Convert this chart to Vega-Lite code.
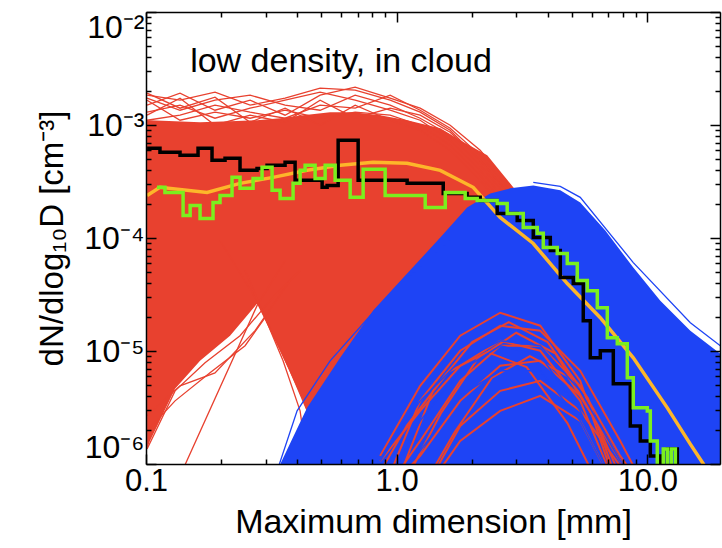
{
"$schema": "https://vega.github.io/schema/vega-lite/v6.json",
"width": 574, "height": 452,
"autosize": {"type": "none"},
"padding": {"left": 146, "top": 12, "right": 2, "bottom": 84},
"background": "white",
"config": {"view": {"stroke": null}, "font": "Liberation Sans"},
"datasets": {
"redArea": [
{"D":0.101,"N":1.102e-3,"N2":1.36e-6},{"D":0.1037,"N":1.102e-3,"N2":1.6e-6},{"D":0.1306,"N":1.08e-3,"N2":4.63e-6},{"D":0.1643,"N":1.058e-3,"N2":8.19e-6},{"D":0.2164,"N":1.08e-3,"N2":1.365e-5},{"D":0.2773,"N":1.102e-3,"N2":2.62e-5},{"D":0.3428,"N":1.148e-3,"N2":1.005e-5},{"D":0.4233,"N":1.221e-3,"N2":3.62e-6},{"D":0.5427,"N":1.298e-3,"N2":8e-7},{"D":0.6705,"N":1.298e-3,"N2":8e-7},{"D":0.859,"N":1.221e-3,"N2":8e-7},{"D":1.101,"N":1.102e-3,"N2":8e-7},{"D":1.493,"N":9.36e-4,"N2":8e-7},{"D":1.793,"N":7.32e-4,"N2":8e-7},{"D":2.298,"N":5.39e-4,"N2":8e-7},{"D":2.918,"N":2.81e-4,"N2":8e-7},{"D":3.74,"N":1.43e-4,"N2":8e-7},{"D":6.494,"N":3.42e-5,"N2":8e-7},{"D":13.54,"N":3.62e-6,"N2":8e-7},{"D":19.56,"N":1.44e-6,"N2":8e-7}
],
"redLines": [
{"id":"L1","D":0.101,"N":1.836e-3},{"id":"L1","D":0.1367,"N":1.658e-3},{"id":"L1","D":0.1885,"N":1.952e-3},{"id":"L1","D":0.2602,"N":1.497e-3},{"id":"L1","D":0.3588,"N":1.727e-3},{"id":"L1","D":0.4951,"N":2.118e-3},{"id":"L1","D":0.683,"N":2.033e-3},{"id":"L1","D":0.942,"N":1.658e-3},{"id":"L1","D":1.241,"N":1.298e-3},{"id":"L1","D":1.635,"N":8.98e-4},{"id":"L1","D":2.154,"N":4.87e-4},{"id":"L1","D":2.839,"N":2.38e-4},
{"id":"L2","D":0.101,"N":1.497e-3},{"id":"L2","D":0.1367,"N":1.912e-3},{"id":"L2","D":0.1885,"N":1.351e-3},{"id":"L2","D":0.2602,"N":1.658e-3},{"id":"L2","D":0.3588,"N":1.221e-3},{"id":"L2","D":0.4951,"N":1.836e-3},{"id":"L2","D":0.683,"N":2.16e-3},{"id":"L2","D":0.942,"N":1.727e-3},{"id":"L2","D":1.241,"N":1.408e-3},{"id":"L2","D":1.635,"N":9.95e-4},{"id":"L2","D":2.154,"N":5.97e-4},{"id":"L2","D":2.839,"N":2.92e-4},
{"id":"L3","D":0.101,"N":1.727e-3},{"id":"L3","D":0.1367,"N":1.351e-3},{"id":"L3","D":0.1885,"N":1.658e-3},{"id":"L3","D":0.2602,"N":1.836e-3},{"id":"L3","D":0.3588,"N":1.497e-3},{"id":"L3","D":0.4951,"N":1.351e-3},{"id":"L3","D":0.683,"N":1.836e-3},{"id":"L3","D":0.942,"N":1.497e-3},{"id":"L3","D":1.241,"N":1.148e-3},{"id":"L3","D":1.635,"N":8.11e-4},{"id":"L3","D":2.154,"N":4.40e-4},{"id":"L3","D":2.839,"N":2.15e-4},
{"id":"L4","D":0.101,"N":1.298e-3},{"id":"L4","D":0.1367,"N":1.497e-3},{"id":"L4","D":0.1885,"N":1.148e-3},{"id":"L4","D":0.2602,"N":1.408e-3},{"id":"L4","D":0.3588,"N":1.658e-3},{"id":"L4","D":0.4951,"N":1.952e-3},{"id":"L4","D":0.683,"N":1.658e-3},{"id":"L4","D":0.942,"N":1.351e-3},{"id":"L4","D":1.241,"N":1.102e-3},{"id":"L4","D":1.635,"N":7.32e-4},{"id":"L4","D":2.154,"N":3.97e-4},{"id":"L4","D":2.839,"N":1.94e-4},
{"id":"L5","D":0.101,"N":1.102e-3},{"id":"L5","D":0.1367,"N":1.221e-3},{"id":"L5","D":0.1885,"N":1.497e-3},{"id":"L5","D":0.2602,"N":1.298e-3},{"id":"L5","D":0.3588,"N":1.148e-3},{"id":"L5","D":0.4951,"N":1.497e-3},{"id":"L5","D":0.683,"N":1.408e-3},{"id":"L5","D":0.942,"N":1.836e-3},{"id":"L5","D":1.241,"N":1.351e-3},{"id":"L5","D":1.635,"N":9.36e-4},{"id":"L5","D":2.154,"N":5.39e-4},{"id":"L5","D":2.839,"N":2.64e-4},
{"id":"L6","D":0.101,"N":1.658e-3},{"id":"L6","D":0.1367,"N":1.102e-3},{"id":"L6","D":0.1885,"N":1.298e-3},{"id":"L6","D":0.2602,"N":1.148e-3},{"id":"L6","D":0.3588,"N":1.351e-3},{"id":"L6","D":0.4951,"N":1.148e-3},{"id":"L6","D":0.683,"N":1.298e-3},{"id":"L6","D":0.942,"N":1.221e-3},{"id":"L6","D":1.241,"N":9.95e-4},{"id":"L6","D":1.635,"N":6.61e-4},{"id":"L6","D":2.154,"N":3.58e-4},{"id":"L6","D":2.839,"N":1.75e-4},
{"id":"L7","D":0.101,"N":1.221e-3},{"id":"L7","D":0.1367,"N":1.727e-3},{"id":"L7","D":0.1885,"N":9.95e-4},{"id":"L7","D":0.2602,"N":1.221e-3},{"id":"L7","D":0.3588,"N":1.058e-3},{"id":"L7","D":0.4951,"N":1.658e-3},{"id":"L7","D":0.683,"N":1.148e-3},{"id":"L7","D":0.942,"N":1.408e-3},{"id":"L7","D":1.241,"N":1.221e-3},{"id":"L7","D":1.635,"N":8.62e-4},{"id":"L7","D":2.154,"N":4.87e-4},{"id":"L7","D":2.839,"N":2.38e-4},
{"id":"L8","D":0.101,"N":1.912e-3},{"id":"L8","D":0.1367,"N":1.408e-3},{"id":"L8","D":0.1885,"N":1.762e-3},{"id":"L8","D":0.2602,"N":1.058e-3},{"id":"L8","D":0.3588,"N":1.408e-3},{"id":"L8","D":0.4951,"N":9.95e-4},{"id":"L8","D":0.683,"N":1.497e-3},{"id":"L8","D":0.942,"N":1.102e-3},{"id":"L8","D":1.241,"N":8.98e-4},{"id":"L8","D":1.635,"N":5.97e-4},{"id":"L8","D":2.154,"N":3.24e-4},{"id":"L8","D":2.839,"N":1.58e-4},
{"id":"R1","D":0.101,"N":1.36e-6},{"id":"R1","D":0.1306,"N":4.44e-6},{"id":"R1","D":0.172,"N":7.86e-6},{"id":"R1","D":0.2372,"N":1.365e-5},{"id":"R1","D":0.3126,"N":2.79e-5},{"id":"R1","D":0.4119,"N":5.15e-5},
{"id":"R2","D":0.101,"N":1.96e-6},{"id":"R2","D":0.1306,"N":3.62e-6},{"id":"R2","D":0.180,"N":6.41e-6},{"id":"R2","D":0.2485,"N":1.113e-5},{"id":"R2","D":0.3126,"N":2.28e-5},
{"id":"R3","D":0.1247,"N":5e-7},{"id":"R3","D":0.2773,"N":2.52e-5},{"id":"R3","D":0.3588,"N":6.32e-5},
{"id":"R4","D":0.101,"N":2.67e-6},{"id":"R4","D":0.1367,"N":4.92e-6},{"id":"R4","D":0.1885,"N":6.41e-6},{"id":"R4","D":0.2723,"N":1.512e-5},{"id":"R4","D":0.3757,"N":4.2e-5},
{"id":"D1","D":0.1974,"N":9.5e-5},{"id":"D1","D":0.2773,"N":2.79e-5},{"id":"D1","D":0.3757,"N":6.68e-6},{"id":"D1","D":0.4951,"N":1.6e-6},{"id":"D1","D":0.5525,"N":5e-7},
{"id":"D2","D":0.2485,"N":5.15e-5},{"id":"D2","D":0.2904,"N":2.28e-5},{"id":"D2","D":0.3523,"N":8.19e-6},{"id":"D2","D":0.4119,"N":2.95e-6},{"id":"D2","D":0.46,"N":5e-7}
],
"blueArea": [
{"D":0.3273,"N":8e-7,"N2":8e-7},{"D":0.4392,"N":3.14e-6,"N2":8e-7},{"D":0.5951,"N":8.71e-6,"N2":8e-7},{"D":0.8057,"N":2.28e-5,"N2":8e-7},{"D":1.101,"N":4.84e-5,"N2":8e-7},{"D":1.493,"N":1.01e-4,"N2":8e-7},{"D":1.911,"N":1.865e-4,"N2":8e-7},{"D":2.362,"N":2.48e-4,"N2":8e-7},{"D":2.839,"N":2.75e-4,"N2":8e-7},{"D":3.508,"N":2.92e-4,"N2":8e-7},{"D":4.496,"N":2.64e-4,"N2":8e-7},{"D":5.401,"N":2.065e-4,"N2":8e-7},{"D":6.80,"N":1.165e-4,"N2":8e-7},{"D":8.792,"N":5.47e-5,"N2":8e-7},{"D":11.27,"N":2.79e-5,"N2":8e-7},{"D":14.85,"N":1.512e-5,"N2":8e-7},{"D":19.56,"N":9.45e-6,"N2":8e-7}
],
"blueLines": [
{"id":"BL1","D":0.3069,"N":5e-7},{"id":"BL1","D":0.4007,"N":2.95e-6},{"id":"BL1","D":0.5427,"N":8.19e-6},{"id":"BL1","D":0.7839,"N":2.05e-5},{"id":"BL1","D":1.132,"N":4.65e-5},{"id":"BL1","D":1.635,"N":9.5e-5},
{"id":"BR1","D":3.508,"N":3.107e-4},{"id":"BR1","D":4.496,"N":2.86e-4},{"id":"BR1","D":5.401,"N":2.29e-4},{"id":"BR1","D":8.792,"N":6.06e-5},{"id":"BR1","D":14.85,"N":1.78e-5},{"id":"BR1","D":19.56,"N":1.113e-5}
],
"redArcs": [
{"id":"A1","D":0.859,"N":5e-7},{"id":"A1","D":1.241,"N":3.62e-6},{"id":"A1","D":1.793,"N":1.005e-5},{"id":"A1","D":2.589,"N":1.675e-5},{"id":"A1","D":3.74,"N":1.512e-5},{"id":"A1","D":5.401,"N":6.68e-6},{"id":"A1","D":7.80,"N":1.6e-6},{"id":"A1","D":10.28,"N":5e-7},
{"id":"A2","D":0.859,"N":5e-7},{"id":"A2","D":1.241,"N":1.6e-6},{"id":"A2","D":1.793,"N":5.44e-6},{"id":"A2","D":2.589,"N":1.113e-5},{"id":"A2","D":3.74,"N":1.113e-5},{"id":"A2","D":5.401,"N":4.92e-6},{"id":"A2","D":7.80,"N":1.18e-6},{"id":"A2","D":10.28,"N":5e-7},
{"id":"A3","D":0.859,"N":1.18e-6},{"id":"A3","D":1.241,"N":4.92e-6},{"id":"A3","D":1.793,"N":1.365e-5},{"id":"A3","D":2.589,"N":2.18e-5},{"id":"A3","D":3.74,"N":1.675e-5},{"id":"A3","D":5.401,"N":5.44e-6},{"id":"A3","D":7.80,"N":5e-7},
{"id":"A4","D":0.859,"N":5e-7},{"id":"A4","D":1.241,"N":1.18e-6},{"id":"A4","D":1.793,"N":3.62e-6},{"id":"A4","D":2.589,"N":7.4e-6},{"id":"A4","D":3.74,"N":8.19e-6},{"id":"A4","D":5.401,"N":4.01e-6},{"id":"A4","D":7.80,"N":1.063e-6},{"id":"A4","D":10.28,"N":5e-7},
{"id":"A5","D":0.859,"N":5e-7},{"id":"A5","D":1.241,"N":5e-7},{"id":"A5","D":1.793,"N":2.17e-6},{"id":"A5","D":2.589,"N":4.44e-6},{"id":"A5","D":3.74,"N":5.44e-6},{"id":"A5","D":5.401,"N":2.95e-6},{"id":"A5","D":7.80,"N":9.6e-7},{"id":"A5","D":10.28,"N":5e-7},
{"id":"A6","D":0.859,"N":1.063e-6},{"id":"A6","D":1.241,"N":2.95e-6},{"id":"A6","D":1.793,"N":7.4e-6},{"id":"A6","D":2.589,"N":1.233e-5},{"id":"A6","D":3.74,"N":1.005e-5},{"id":"A6","D":5.401,"N":3.62e-6},{"id":"A6","D":7.80,"N":5e-7},
{"id":"A7","D":0.859,"N":5e-7},{"id":"A7","D":1.241,"N":5e-7},{"id":"A7","D":1.793,"N":1.6e-6},{"id":"A7","D":2.589,"N":2.95e-6},{"id":"A7","D":3.74,"N":4.01e-6},{"id":"A7","D":5.401,"N":2.41e-6},{"id":"A7","D":7.80,"N":5e-7},{"id":"A7","D":10.28,"N":5e-7},
{"id":"A8","D":1.0,"N":5e-7},{"id":"A8","D":1.5,"N":2.8e-6},{"id":"A8","D":2.1,"N":8.5e-6},{"id":"A8","D":3.0,"N":1.45e-5},{"id":"A8","D":4.3,"N":9.5e-6},{"id":"A8","D":6.2,"N":2.5e-6},{"id":"A8","D":8.5,"N":5e-7},
{"id":"A9","D":0.75,"N":5e-7},{"id":"A9","D":1.1,"N":2.2e-6},{"id":"A9","D":1.6,"N":6.5e-6},{"id":"A9","D":2.3,"N":9.8e-6},{"id":"A9","D":3.3,"N":7.2e-6},{"id":"A9","D":4.8,"N":2.3e-6},{"id":"A9","D":6.8,"N":5e-7},
{"id":"A10","D":1.2,"N":5e-7},{"id":"A10","D":1.7,"N":1.9e-6},{"id":"A10","D":2.4,"N":5.8e-6},{"id":"A10","D":3.4,"N":9.0e-6},{"id":"A10","D":4.8,"N":6.0e-6},{"id":"A10","D":6.9,"N":1.7e-6},{"id":"A10","D":9.5,"N":5e-7},
{"id":"A11","D":0.95,"N":5e-7},{"id":"A11","D":1.4,"N":4.5e-6},{"id":"A11","D":2.0,"N":1.2e-5},{"id":"A11","D":2.8,"N":1.8e-5},{"id":"A11","D":4.0,"N":1.2e-5},{"id":"A11","D":5.8,"N":3.8e-6},{"id":"A11","D":8.0,"N":5e-7}
],
"blueArcs": [
{"id":"BA1","D":0.859,"N":5e-7},{"id":"BA1","D":1.241,"N":2.41e-6},{"id":"BA1","D":1.793,"N":6.68e-6},{"id":"BA1","D":2.589,"N":1.113e-5},{"id":"BA1","D":3.74,"N":9.08e-6},{"id":"BA1","D":5.401,"N":2.95e-6},{"id":"BA1","D":7.80,"N":5e-7},{"id":"BA1","D":10.28,"N":5e-7},
{"id":"BA2","D":0.859,"N":5e-7},{"id":"BA2","D":1.241,"N":1.3e-6},{"id":"BA2","D":1.793,"N":4.01e-6},{"id":"BA2","D":2.589,"N":6.68e-6},{"id":"BA2","D":3.74,"N":6.68e-6},{"id":"BA2","D":5.401,"N":2.41e-6},{"id":"BA2","D":7.80,"N":5e-7},{"id":"BA2","D":10.28,"N":5e-7},
{"id":"BA3","D":0.859,"N":1.063e-6},{"id":"BA3","D":1.241,"N":3.62e-6},{"id":"BA3","D":1.793,"N":8.19e-6},{"id":"BA3","D":2.589,"N":1.233e-5},{"id":"BA3","D":3.74,"N":1.113e-5},{"id":"BA3","D":5.401,"N":4.44e-6},{"id":"BA3","D":7.80,"N":1.063e-6},{"id":"BA3","D":10.28,"N":5e-7}
],
"orange": [
{"D":0.101,"N":2.38e-4},{"D":0.1137,"N":2.81e-4},{"D":0.1752,"N":2.53e-4},{"D":0.2372,"N":3.045e-4},{"D":0.3214,"N":3.44e-4},{"D":0.4392,"N":3.97e-4},{"D":0.5951,"N":4.40e-4},{"D":0.8057,"N":4.67e-4},{"D":1.101,"N":4.58e-4},{"D":1.493,"N":3.97e-4},{"D":2.020,"N":2.81e-4},{"D":2.589,"N":1.52e-4},{"D":3.508,"N":8.94e-5},{"D":4.794,"N":3.95e-5},{"D":6.494,"N":1.97e-5},{"D":8.792,"N":8.71e-6},{"D":12.02,"N":3.14e-6},{"D":14.85,"N":1.50e-6},{"D":16.74,"N":1.0e-6},{"D":17.84,"N":7.7e-7}
],
"black": [
{"D":0.101,"N":6.22e-4},{"D":0.1137,"N":5.73e-4},{"D":0.1367,"N":5.39e-4},{"D":0.1613,"N":6.22e-4},{"D":0.1834,"N":4.87e-4},{"D":0.2067,"N":5.07e-4},{"D":0.2372,"N":3.97e-4},{"D":0.2773,"N":4.13e-4},{"D":0.3041,"N":4.40e-4},{"D":0.3588,"N":4.67e-4},{"D":0.3934,"N":3.24e-4},{"D":0.5043,"N":2.81e-4},{"D":0.528,"N":2.92e-4},{"D":0.5843,"N":7.32e-4},{"D":0.7021,"N":3.24e-4},{"D":1.101,"N":3.045e-4},{"D":1.534,"N":2.48e-4},{"D":1.911,"N":2.29e-4},{"D":2.154,"N":2.15e-4},{"D":2.518,"N":1.65e-4},{"D":3.027,"N":1.43e-4},{"D":3.508,"N":1.01e-4},{"D":4.102,"N":7.75e-5},{"D":4.496,"N":4.47e-5},{"D":5.066,"N":3.95e-5},{"D":5.553,"N":1.855e-5},{"D":5.923,"N":8.71e-6},{"D":6.494,"N":1.005e-5},{"D":7.318,"N":5.12e-6},{"D":8.553,"N":2.17e-6},{"D":9.378,"N":1.6e-6},{"D":10.28,"N":1.18e-6},{"D":11.27,"N":5e-7},{"D":12.02,"N":1.36e-6},{"D":13.18,"N":5e-7}
],
"green": [
{"D":0.1106,"N":2.81e-4},{"D":0.119,"N":2.53e-4},{"D":0.1406,"N":1.58e-4},{"D":0.150,"N":1.94e-4},{"D":0.1643,"N":1.49e-4},{"D":0.1851,"N":2.065e-4},{"D":0.1974,"N":2.38e-4},{"D":0.2204,"N":3.44e-4},{"D":0.2372,"N":2.75e-4},{"D":0.2674,"N":3.37e-4},{"D":0.2904,"N":4.22e-4},{"D":0.3184,"N":2.64e-4},{"D":0.3428,"N":2.24e-4},{"D":0.3862,"N":3.045e-4},{"D":0.4119,"N":3.97e-4},{"D":0.4312,"N":4.40e-4},{"D":0.4728,"N":3.37e-4},{"D":0.5184,"N":4.40e-4},{"D":0.5683,"N":3.24e-4},{"D":0.6524,"N":2.29e-4},{"D":0.735,"N":4.05e-4},{"D":0.8997,"N":2.38e-4},{"D":1.300,"N":1.865e-4},{"D":1.563,"N":2.53e-4},{"D":1.877,"N":2.24e-4},{"D":2.096,"N":2.15e-4},{"D":2.518,"N":2.02e-4},{"D":2.761,"N":1.65e-4},{"D":3.199,"N":1.24e-4},{"D":3.639,"N":1.10e-4},{"D":3.846,"N":8.24e-5},{"D":4.373,"N":7.29e-5},{"D":4.794,"N":5.94e-5},{"D":5.256,"N":4.20e-5},{"D":5.761,"N":3.42e-5},{"D":6.317,"N":2.42e-5},{"D":6.925,"N":1.31e-5},{"D":7.590,"N":1.16e-5},{"D":8.321,"N":5.79e-6},{"D":8.792,"N":3.14e-6},{"D":10.0,"N":2.95e-6},{"D":10.28,"N":1.6e-6},{"D":10.96,"N":5e-7},{"D":11.58,"N":1.36e-6},{"D":12.02,"N":5e-7},{"D":12.46,"N":1.36e-6},{"D":12.94,"N":5e-7}
],
"label": [{"D":0.150,"N":2.94e-3,"t":"low density, in cloud"}]
},
"layer": [
{"data":{"name":"redArea"},"mark":{"type":"area","color":"#E8412F","clip":true},
 "encoding":{
  "x":{"field":"D","type":"quantitative","scale":{"type":"log","domain":[0.1,19.5],"nice":false},
   "axis":{"orient":"bottom","values":[0.1,0.2,0.3,0.4,0.5,0.6,0.7,0.8,0.9,1,2,3,4,5,6,7,8,9,10],
    "labelExpr":"datum.value==0.1?'0.1':datum.value==1?'1.0':datum.value==10?'10.0':''",
    "tickSize":{"condition":{"test":"datum.value==0.1||datum.value==1||datum.value==10","value":-10},"value":-5},
    "tickColor":"black","tickWidth":1.5,"domainColor":"black","domainWidth":1.5,"grid":false,
    "labelFont":"Liberation Sans","labelFontSize":31,"labelColor":"black","labelPadding":12,"labelOverlap":false,"labelFlush":false,
    "title":"Maximum dimension [mm]","titleFont":"Liberation Sans","titleFontSize":34,"titleFontWeight":"normal","titleColor":"black","titlePadding":4,"zindex":1}},
  "y":{"field":"N","type":"quantitative","scale":{"type":"log","domain":[1e-6,1e-2],"nice":false},
   "axis":{"orient":"left","values":[1e-6,2e-6,3e-6,4e-6,5e-6,6e-6,7e-6,8e-6,9e-6,1e-5,2e-5,3e-5,4e-5,5e-5,6e-5,7e-5,8e-5,9e-5,1e-4,2e-4,3e-4,4e-4,5e-4,6e-4,7e-4,8e-4,9e-4,1e-3,2e-3,3e-3,4e-3,5e-3,6e-3,7e-3,8e-3,9e-3,1e-2],
    "labelExpr":"datum.value==1e-2?'10⁻²':datum.value==1e-3?'10⁻³':datum.value==1e-4?'10⁻⁴':datum.value==1e-5?'10⁻⁵':datum.value==1e-6?'10⁻⁶':''",
    "tickSize":{"condition":{"test":"datum.value==1e-2||datum.value==1e-3||datum.value==1e-4||datum.value==1e-5||datum.value==1e-6","value":-10},"value":-5},
    "tickColor":"black","tickWidth":1.5,"domainColor":"black","domainWidth":1.5,"grid":false,
    "labelFont":"Liberation Sans","labelFontSize":32,"labelColor":"black","labelPadding":12,"labelOverlap":false,"labelFlush":true,
    "title":"dN/dlog₁₀D [cm⁻³]","titleFont":"Liberation Sans","titleFontSize":33,"titleFontWeight":"normal","titleColor":"black","titlePadding":14,"zindex":1}},
  "y2":{"field":"N2"}}},
{"data":{"name":"redLines"},"mark":{"type":"line","color":"#E8412F","strokeWidth":1.3,"clip":true},
 "encoding":{"x":{"field":"D","type":"quantitative","axis":null},"y":{"field":"N","type":"quantitative","axis":null},"detail":{"field":"id"}}},
{"data":{"name":"blueArea"},"mark":{"type":"area","color":"#1E44F5","clip":true},
 "encoding":{"x":{"field":"D","type":"quantitative","axis":null},"y":{"field":"N","type":"quantitative","axis":null},"y2":{"field":"N2"}}},
{"data":{"name":"blueLines"},"mark":{"type":"line","color":"#1E44F5","strokeWidth":1.3,"clip":true},
 "encoding":{"x":{"field":"D","type":"quantitative","axis":null},"y":{"field":"N","type":"quantitative","axis":null},"detail":{"field":"id"}}},
{"data":{"name":"redArcs"},"mark":{"type":"line","color":"#E8412F","strokeWidth":2,"clip":true},
 "encoding":{"x":{"field":"D","type":"quantitative","axis":null},"y":{"field":"N","type":"quantitative","axis":null},"detail":{"field":"id"}}},
{"data":{"name":"blueArcs"},"mark":{"type":"line","color":"#1E44F5","strokeWidth":1.5,"clip":true},
 "encoding":{"x":{"field":"D","type":"quantitative","axis":null},"y":{"field":"N","type":"quantitative","axis":null},"detail":{"field":"id"}}},
{"data":{"name":"orange"},"mark":{"type":"line","color":"#FDB62A","strokeWidth":3.5,"clip":true},
 "encoding":{
  "x":{"field":"D","type":"quantitative","axis":{"orient":"top","values":[0.1,0.2,0.3,0.4,0.5,0.6,0.7,0.8,0.9,1,2,3,4,5,6,7,8,9,10],"labels":false,"title":null,"grid":false,
    "tickSize":{"condition":{"test":"datum.value==0.1||datum.value==1||datum.value==10","value":-10},"value":-5},"tickColor":"black","tickWidth":1.5,"domainColor":"black","domainWidth":1.5,"zindex":1}},
  "y":{"field":"N","type":"quantitative","axis":{"orient":"right","values":[1e-6,2e-6,3e-6,4e-6,5e-6,6e-6,7e-6,8e-6,9e-6,1e-5,2e-5,3e-5,4e-5,5e-5,6e-5,7e-5,8e-5,9e-5,1e-4,2e-4,3e-4,4e-4,5e-4,6e-4,7e-4,8e-4,9e-4,1e-3,2e-3,3e-3,4e-3,5e-3,6e-3,7e-3,8e-3,9e-3,1e-2],"labels":false,"title":null,"grid":false,
    "tickSize":{"condition":{"test":"datum.value==1e-2||datum.value==1e-3||datum.value==1e-4||datum.value==1e-5||datum.value==1e-6","value":-10},"value":-5},"tickColor":"black","tickWidth":1.5,"domainColor":"black","domainWidth":1.5,"zindex":1}}}},
{"data":{"name":"black"},"mark":{"type":"line","color":"black","strokeWidth":3.5,"interpolate":"step-after","clip":true},
 "encoding":{"x":{"field":"D","type":"quantitative","axis":null},"y":{"field":"N","type":"quantitative","axis":null}}},
{"data":{"name":"green"},"mark":{"type":"line","color":"#7BEF1E","strokeWidth":3.5,"interpolate":"step-after","clip":true},
 "encoding":{"x":{"field":"D","type":"quantitative","axis":null},"y":{"field":"N","type":"quantitative","axis":null}}},
{"data":{"name":"label"},"mark":{"type":"text","align":"left","baseline":"alphabetic","font":"Liberation Sans","fontSize":34,"color":"black"},
 "encoding":{"x":{"field":"D","type":"quantitative","axis":null},"y":{"field":"N","type":"quantitative","axis":null},"text":{"field":"t"}}}
],
"resolve": {"axis": {"x": "independent", "y": "independent"}}
}
